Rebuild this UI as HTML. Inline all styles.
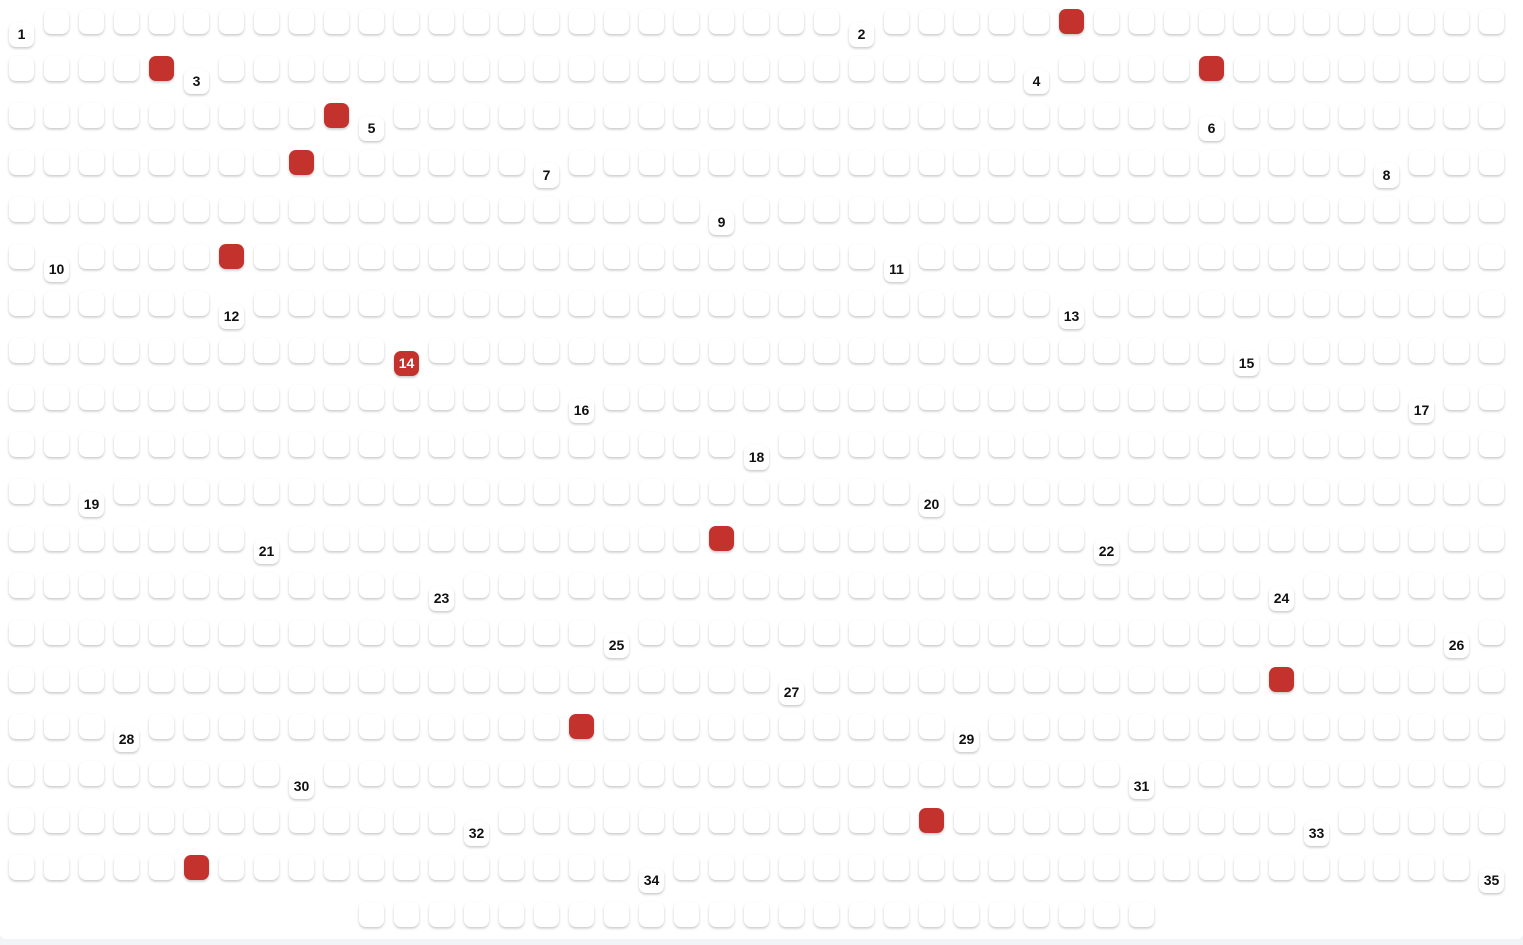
<!DOCTYPE html>
<html><head><meta charset="utf-8">
<style>
html,body{margin:0;padding:0;}
body{width:1523px;height:945px;background:#f3f4f6;position:relative;overflow:hidden;font-family:"Liberation Sans","DejaVu Sans",sans-serif;}
#panel{position:absolute;left:0;top:0;width:1523px;height:939px;background:#fff;border-radius:0 0 6px 6px;}
.cell{position:absolute;width:25px;height:25px;border-radius:7px;background:#fff;box-shadow:0 1.5px 2.5px rgba(0,0,0,0.22);box-sizing:border-box;}
.cell.red{background:#c4322e;}
.cell.lab{font-size:14px;font-weight:bold;color:#111;text-align:center;line-height:25px;}
.cell.lab.red{color:#fff;}
</style></head>
<body>
<div id="panel"></div>
<script>
const COLS = 43, ROWS = 20;
const lastRowStart = 10, lastRowEnd = 32;
// numbered cells: [row, col]
const labelRows = [0,0,1,1,2,2,3,3,4,5,5,6,6,7,7,8,8,9,10,10,11,11,12,12,13,13,14,15,15,16,16,17,17,18,18];
const labelCols = [0,24,5,29,10,34,15,39,20,1,25,6,30,11,35,16,40,21,2,26,7,31,12,36,17,41,22,3,27,8,32,13,37,18,42];
// red cells: [row, col]
const redRows = [0,1,1,2,3,5,7,11,14,15,17,18];
const redCols = [30,4,34,9,8,6,11,20,36,16,26,5];

const panel = document.getElementById('panel');
const x = c => 9 + c * 35;
const y = r => 9 + r * 47;
const key = (r,c) => r + '_' + c;
const labels = {};
labelRows.forEach((r,i) => labels[key(r,labelCols[i])] = i + 1);
const reds = new Set(redRows.map((r,i) => key(r, redCols[i])));

for (let r = 0; r < ROWS; r++) {
  for (let c = 0; c < COLS; c++) {
    if (r === ROWS - 1 && (c < lastRowStart || c > lastRowEnd)) continue;
    const el = document.createElement('div');
    const k = key(r,c);
    let cls = 'cell';
    let top = y(r);
    if (labels[k] !== undefined) {
      cls += ' lab';
      top += 13;
      el.textContent = labels[k];
    }
    if (reds.has(k)) cls += ' red';
    el.className = cls;
    el.style.left = x(c) + 'px';
    el.style.top = top + 'px';
    
    
    panel.appendChild(el);
  }
}
</script>
</body></html>
